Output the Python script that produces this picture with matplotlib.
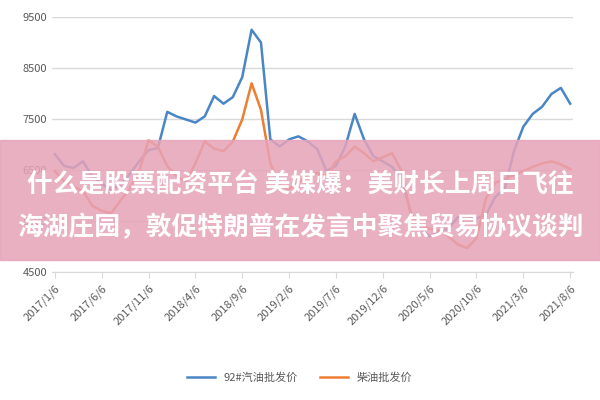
import matplotlib
matplotlib.use("Agg")
import matplotlib.pyplot as plt
import pandas as pd
from matplotlib.patches import Rectangle

plt.rcParams['font.family'] = ['Noto Sans CJK SC', 'DejaVu Sans']

dates = pd.date_range('2017-01-06', periods=56, freq='MS') + pd.Timedelta(days=5)
gasoline = [6810, 6580, 6540, 6670, 6380, 6230, 6110, 6210, 6420, 6670,
            6890, 6930, 7640, 7550, 7490, 7430, 7550, 7950, 7800, 7930,
            8320, 9250, 9000, 7100, 6960, 7100, 7160, 7060, 6910, 6480,
            6580, 6960, 7600, 7100, 6770, 6670, 6560, 6320, 5660, 5350,
            5200, 5280, 5350, 5570, 5610, 5550, 5620, 5970, 6130, 6870,
            7350, 7600, 7740, 7990, 8110, 7800]
diesel = [6480, 6280, 6170, 6090, 5800, 5700, 5650, 5900, 6130, 6480,
          7080, 6960, 6580, 6380, 6280, 6630, 7060, 6920, 6870, 7060,
          7490, 8200, 7680, 6630, 6190, 6130, 6250, 6400, 6440, 6380,
          6670, 6770, 6960, 6830, 6670, 6750, 6830, 6480, 5610, 5410,
          5350, 5310, 5200, 5040, 4970, 5160, 5940, 6250, 6320, 6400,
          6480, 6560, 6630, 6670, 6610, 6520]
tick_labels = ['2017/1/6', '2017/6/6', '2017/11/6', '2018/4/6', '2018/9/6', '2019/2/6',
               '2019/7/6', '2019/12/6', '2020/5/6', '2020/10/6', '2021/3/6', '2021/8/6']
yticks = [4500, 5500, 6500, 7500, 8500, 9500]

fig = plt.figure(figsize=(6, 4), dpi=100)
ax = fig.add_axes([52/600, 1-272/400, 521/600, 255/400])
x = list(range(len(dates)))
ax.plot(x, gasoline, color='#4a86c6', lw=1.8, label='92#汽油批发价')
ax.plot(x, diesel, color='#ed7d31', lw=1.8, label='柴油批发价')
ax.set_ylim(4500, 9500)
ax.set_xlim(-0.3, 55.3)
ax.set_yticks(yticks)
ax.set_xticks(list(range(0, 56, 5)))
ax.set_xticklabels(tick_labels, rotation=45, ha='right', rotation_mode='anchor')
ax.tick_params(axis='both', colors='#595959', labelsize=8, length=0)
ax.tick_params(axis='x', length=4, color='#d9d9d9', pad=4)
ax.grid(axis='y', color='#d9d9d9', lw=1)
for s in ['top', 'right', 'left']:
    ax.spines[s].set_visible(False)
ax.spines['bottom'].set_color('#d9d9d9')
ax.set_axisbelow(True)
fig.legend(loc='center', bbox_to_anchor=(0.5, 1-378/400), ncol=2, frameon=False,
           fontsize=8, labelcolor='#595959', handlelength=2.5)

fig.patches.append(Rectangle((0, 1-260/400), 1, 120/400, transform=fig.transFigure,
                             color='#e6a3b8', alpha=0.85, zorder=5))
fig.text(0.5, 1-185/400, '什么是股票配资平台 美媒爆：美财长上周日飞往', color='white',
         fontsize=18.5, fontweight='bold', ha='center', va='center', zorder=6)
fig.text(0.5, 1-228/400, '海湖庄园，敦促特朗普在发言中聚焦贸易协议谈判', color='white',
         fontsize=18.5, fontweight='bold', ha='center', va='center', zorder=6)
fig.savefig('out.png')
